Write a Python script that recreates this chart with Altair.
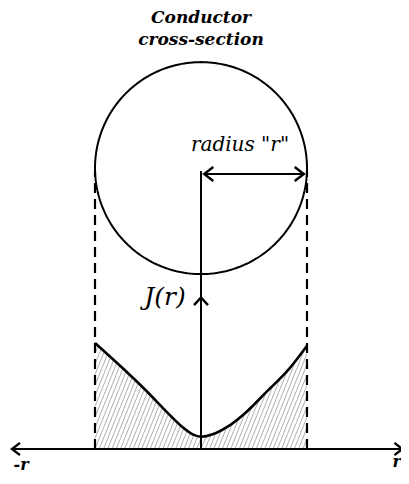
import altair as alt
import pandas as pd
import numpy as np

# ---- data (units: conductor radius r = 1) ----
curve_u = [-1.0, -0.733, -0.512, -0.324, -0.167, -0.073, 0.0, 0.11, 0.274, 0.431, 0.62, 0.808, 1.0]
curve_v = [1.0, 0.757, 0.545, 0.35, 0.2, 0.135, 0.116, 0.139, 0.226, 0.352, 0.541, 0.729, 0.975]

circle_center = [0.0, 2.65]
circle_radius = 1.0
edge_u = [-1.0, 1.0]
edge_top = 2.62
radius_arrow = [0.03, 0.97, 2.594]
axis_top = 2.623
baseline_ends = [-1.783, 1.90]
up_arrow_v = 1.43

titles = ["Conductor", "cross-section"]
labels = ['radius "r"', "J(r)", "-r", "r"]

# ---- scales ----
xs = alt.Scale(domain=[-1.8208, 1.8868], nice=False, zero=False)
ys = alt.Scale(domain=[-0.2547, 4.1604], nice=False, zero=False)
X = lambda f: alt.X(f, type="quantitative", scale=xs, axis=None)
Y = lambda f: alt.Y(f, type="quantitative", scale=ys, axis=None)

df_curve = pd.DataFrame({"u": curve_u, "v": curve_v, "top": 1.12})

# hatch texture inside the rectangle under the curve (masked above the curve)
k = 0.4
step = 0.04
segs = []
c = -1.0 - k * 1.1
i = 0
while c < 1.0:
    v0 = max(0.0, (-1.0 - c) / k)
    v1 = min(1.1, (1.0 - c) / k)
    if v1 > v0:
        segs.append({"id": i, "u": c + k * v0, "v": v0, "u2": c + k * v1, "v2": v1})
        i += 1
    c += step
df_hatch = pd.DataFrame(segs)

interp = "catmull-rom"
hatch = alt.Chart(df_hatch).mark_rule(color="#9a9a9a", strokeWidth=0.8).encode(
    x=X("u"), y=Y("v"), x2="u2", y2="v2")
mask = alt.Chart(df_curve).mark_area(color="white", interpolate=interp, opacity=1).encode(
    x=X("u"), y=Y("v"), y2="top")
curve = alt.Chart(df_curve).mark_line(color="black", strokeWidth=2.6, interpolate=interp).encode(
    x=X("u"), y=Y("v"))

df_edges = pd.DataFrame({"u": edge_u, "v": [0.0, 0.0], "v2": [edge_top, edge_top]})
edges = alt.Chart(df_edges).mark_rule(color="black", strokeWidth=2.2, strokeDash=[10, 6]).encode(
    x=X("u"), y=Y("v"), y2="v2")

vaxis = alt.Chart(pd.DataFrame({"u": [0.0], "v": [0.0], "v2": [axis_top]})).mark_rule(
    color="black", strokeWidth=2).encode(x=X("u"), y=Y("v"), y2="v2")

base = alt.Chart(pd.DataFrame({"u": [baseline_ends[0]], "u2": [baseline_ends[1]], "v": [0.0]})).mark_rule(
    color="black", strokeWidth=2.2).encode(x=X("u"), x2="u2", y=Y("v"))

th = np.linspace(0, 2 * np.pi, 241)
df_circ = pd.DataFrame({"u": circle_center[0] + circle_radius * np.cos(th),
                        "v": circle_center[1] + circle_radius * np.sin(th),
                        "o": np.arange(len(th))})
circ = alt.Chart(df_circ).mark_line(color="black", strokeWidth=2).encode(
    x=X("u"), y=Y("v"), order="o:Q")

rarrow = alt.Chart(pd.DataFrame({"u": [radius_arrow[0]], "u2": [radius_arrow[1]], "v": [radius_arrow[2]]})).mark_rule(
    color="black", strokeWidth=2).encode(x=X("u"), x2="u2", y=Y("v"))

left_heads = pd.DataFrame({"u": [radius_arrow[0], baseline_ends[0]], "v": [radius_arrow[2], 0.0], "s": [196, 150]})
right_heads = pd.DataFrame({"u": [radius_arrow[1], baseline_ends[1]], "v": [radius_arrow[2], 0.0], "s": [196, 150]})
lh = alt.Chart(left_heads).mark_point(shape="M1.3,-1L0,0L1.3,1", filled=False, color="black",
                                      strokeWidth=2.4, opacity=1).encode(
    x=X("u"), y=Y("v"), size=alt.Size("s:Q", scale=None, legend=None))
rh = alt.Chart(right_heads).mark_point(shape="M-1.3,-1L0,0L-1.3,1", filled=False, color="black",
                                       strokeWidth=2.4, opacity=1).encode(
    x=X("u"), y=Y("v"), size=alt.Size("s:Q", scale=None, legend=None))
uh = alt.Chart(pd.DataFrame({"u": [0.0], "v": [up_arrow_v]})).mark_point(
    shape="M-1,1.1L0,0L1,1.1", filled=False, color="black", strokeWidth=2.4, size=196, opacity=1).encode(
    x=X("u"), y=Y("v"))

serif = "DejaVu Serif"
t1 = alt.Chart(pd.DataFrame({"u": [0.0, 0.0], "v": [4.019, 3.811], "t": titles})).mark_text(
    font=serif, fontSize=17, fontStyle="italic", fontWeight="bold", baseline="alphabetic", align="center").encode(
    x=X("u"), y=Y("v"), text="t:N")
t2 = alt.Chart(pd.DataFrame({"u": [0.368], "v": [2.811], "t": [labels[0]]})).mark_text(
    font=serif, fontSize=20, fontStyle="italic", baseline="alphabetic", align="center").encode(
    x=X("u"), y=Y("v"), text="t:N")
t3 = alt.Chart(pd.DataFrame({"u": [-0.34], "v": [1.358], "t": [labels[1]]})).mark_text(
    font=serif, fontSize=25, fontStyle="italic", baseline="alphabetic", align="center").encode(
    x=X("u"), y=Y("v"), text="t:N")
t4 = alt.Chart(pd.DataFrame({"u": [-1.698], "v": [-0.198], "t": [labels[2]]})).mark_text(
    font=serif, fontSize=16, fontStyle="italic", fontWeight="bold", baseline="alphabetic", align="center").encode(
    x=X("u"), y=Y("v"), text="t:N")
t5 = alt.Chart(pd.DataFrame({"u": [1.8868], "v": [-0.170], "t": [labels[3]]})).mark_text(
    font=serif, fontSize=16, fontStyle="italic", fontWeight="bold", baseline="alphabetic", align="right").encode(
    x=X("u"), y=Y("v"), text="t:N")

chart = alt.layer(hatch, mask, curve, edges, vaxis, base, circ, rarrow, lh, rh, uh, t1, t2, t3, t4, t5).properties(
    width=393, height=468,
    padding=0,
    autosize=alt.AutoSizeParams(type="none"),
).configure_view(stroke=None)

chart.save("out.html", embed_options={"renderer": "svg", "actions": False})
